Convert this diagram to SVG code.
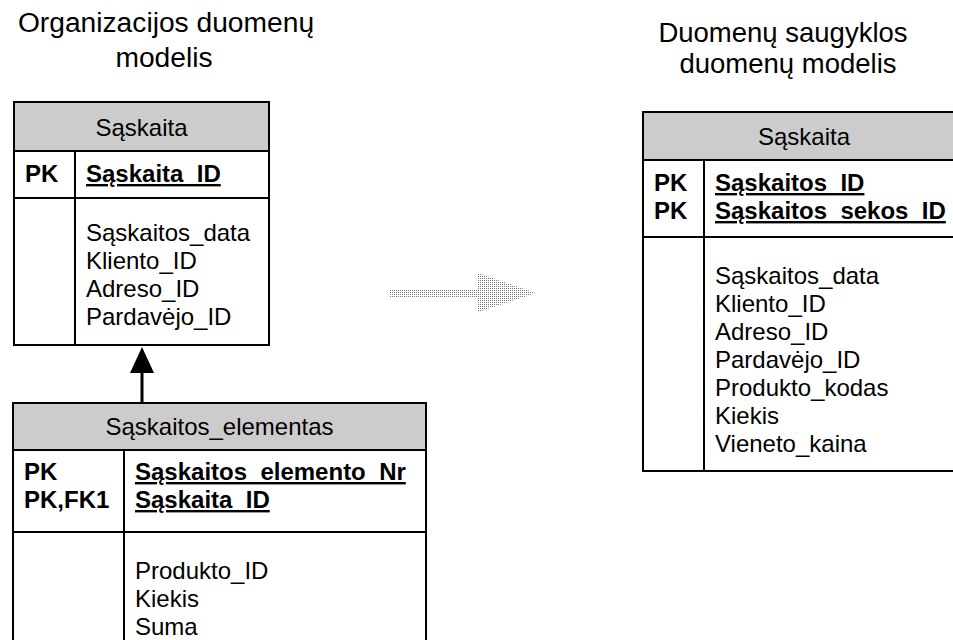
<svg xmlns="http://www.w3.org/2000/svg" width="953" height="640" viewBox="0 0 953 640">
<defs>
<style>
.t{font-family:"Liberation Sans",Arial,sans-serif;font-size:24px;fill:#000}
.title{font-family:"Liberation Sans",Arial,sans-serif;font-size:27.5px;fill:#000;text-anchor:middle}
.big{font-size:28.2px}
.b{font-weight:bold}
.u{text-decoration:underline}
.mid{text-anchor:middle}
.hdr{fill:#cccccc;stroke:none}
.box{fill:none;stroke:#000;stroke-width:2}
.ln{stroke:#000;stroke-width:2;fill:none}
.conn{stroke:#000;stroke-width:3;fill:none}
</style>
<marker id="tri" markerUnits="userSpaceOnUse" markerWidth="26" markerHeight="24" viewBox="0 0 26 24" refX="2" refY="12" orient="auto">
<path d="M0,0 L26,12 L0,24 Z" fill="#000"/>
</marker>
<pattern id="dots" width="2" height="2" patternUnits="userSpaceOnUse">
<rect width="1" height="1" fill="#777"/>
</pattern>
</defs>
<rect width="953" height="640" fill="#fff"/>

<g id="title-left">
<text class="title big" x="166" y="32">Organizacijos duomenų</text>
<text class="title big" x="164" y="67">modelis</text>
</g>
<g id="title-right">
<text class="title" x="783" y="42">Duomenų saugyklos</text>
<text class="title" x="788" y="73">duomenų modelis</text>
</g>

<g id="saskaita-org">
<rect class="hdr" x="14" y="102" width="255" height="49"/>
<rect class="box" x="14" y="102" width="255" height="243"/>
<line class="ln" x1="14" y1="151" x2="269" y2="151"/>
<line class="ln" x1="14" y1="198" x2="269" y2="198"/>
<line class="ln" x1="75" y1="151" x2="75" y2="345"/>
<text class="t mid" x="141.5" y="136">Sąskaita</text>
<text class="t b" x="25" y="182">PK</text>
<text class="t b u" x="86" y="182">Sąskaita_ID</text>
<text class="t" x="86" y="241">Sąskaitos_data</text>
<text class="t" x="86" y="269">Kliento_ID</text>
<text class="t" x="86" y="297">Adreso_ID</text>
<text class="t" x="86" y="325">Pardavėjo_ID</text>
</g>

<g id="saskaitos-elementas">
<rect class="hdr" x="13" y="403" width="413" height="47"/>
<rect class="box" x="13" y="403" width="413" height="260"/>
<line class="ln" x1="13" y1="450" x2="426" y2="450"/>
<line class="ln" x1="13" y1="532" x2="426" y2="532"/>
<line class="ln" x1="124" y1="450" x2="124" y2="663"/>
<text class="t mid" x="219.5" y="435">Sąskaitos_elementas</text>
<text class="t b" x="24" y="480">PK</text>
<text class="t b" x="24" y="508">PK,FK1</text>
<text class="t b u" x="135" y="480">Sąskaitos_elemento_Nr</text>
<text class="t b u" x="135" y="508">Sąskaita_ID</text>
<text class="t" x="135" y="579">Produkto_ID</text>
<text class="t" x="135" y="607">Kiekis</text>
<text class="t" x="135" y="635">Suma</text>
</g>

<g id="saskaita-dw">
<rect class="hdr" x="643" y="112" width="322" height="48"/>
<rect class="box" x="643" y="112" width="322" height="359"/>
<line class="ln" x1="643" y1="160" x2="965" y2="160"/>
<line class="ln" x1="643" y1="237" x2="965" y2="237"/>
<line class="ln" x1="704" y1="160" x2="704" y2="471"/>
<text class="t mid" x="804" y="145">Sąskaita</text>
<text class="t b" x="654" y="191">PK</text>
<text class="t b" x="654" y="219">PK</text>
<text class="t b u" x="715" y="191">Sąskaitos_ID</text>
<text class="t b u" x="715" y="219">Sąskaitos_sekos_ID</text>
<text class="t" x="715" y="284">Sąskaitos_data</text>
<text class="t" x="715" y="312">Kliento_ID</text>
<text class="t" x="715" y="340">Adreso_ID</text>
<text class="t" x="715" y="368">Pardavėjo_ID</text>
<text class="t" x="715" y="396">Produkto_kodas</text>
<text class="t" x="715" y="424">Kiekis</text>
<text class="t" x="715" y="452">Vieneto_kaina</text>
</g>

<g id="connectors">
<line class="conn" x1="142" y1="402" x2="142" y2="371" marker-end="url(#tri)"/>
</g>

<g id="transform-arrow">
<path d="M389,289 L478,289 L478,273 L536,293 L478,312 L478,297 L389,297 Z" fill="url(#dots)"/>
</g>
</svg>
